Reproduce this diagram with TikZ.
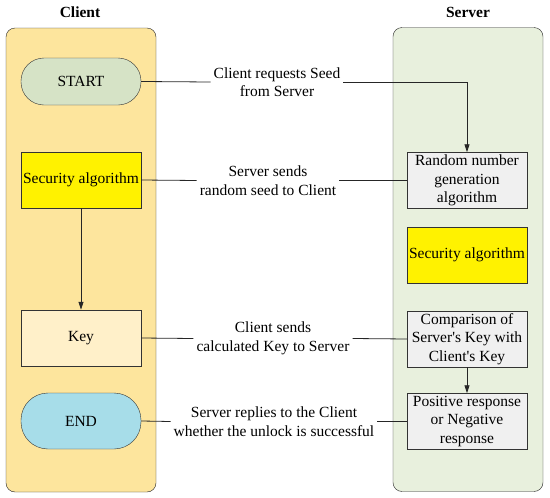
\documentclass[tikz,border=0pt]{standalone}
\usepackage{fontspec}
\setmainfont{Liberation Serif}
\newfontfamily\aposfont{Liberation Serif}[Ligatures=TeXOff]
\usetikzlibrary{arrows.meta}

\definecolor{clientbg}{HTML}{FDE59D}
\definecolor{serverbg}{HTML}{E8F0DD}
\definecolor{startfill}{HTML}{D6E3C6}
\definecolor{keyfill}{HTML}{FFF0C9}
\definecolor{endfill}{HTML}{A7DDE9}
\definecolor{grayfill}{HTML}{F0F0F0}
\newcommand{\apos}{{\aposfont'}}

\begin{document}
\begin{tikzpicture}[x=1pt, y=-1pt,
  txt/.style={font=\fontsize{15.5}{18.5}\selectfont},
  panel/.style={draw=black!85, rounded corners=9pt, minimum width=150pt, minimum height=464pt},
  box/.style={txt, draw=black!80, minimum width=120pt, minimum height=56pt, align=center, inner sep=1pt},
  term/.style={box, rounded corners=23pt},
  msg/.style={txt, fill=white, align=center, inner sep=3pt},
  head/.style={font=\fontsize{15.5}{17}\selectfont\bfseries},
  link/.style={draw=black!85, line width=0.8pt},
  >={Triangle[length=8pt,width=5pt]}]
\useasboundingbox (0,0) rectangle (550,498);
% lanes
\node[panel, fill=clientbg] (clientlane) at (81,260) {};
\node[panel, fill=serverbg] (serverlane) at (468,259.5) {};
\node[head] (clienthead) at (80,12) {Client};
\node[head] (serverhead) at (468,12) {Server};
% client side
\node[term, fill=startfill, minimum height=47pt] (start) at (81,81.5) {START};
\node[box, fill=yellow] (csec) at (81,180) {Security algorithm};
\node[box, fill=keyfill] (key) at (81,338) {Key};
\node[term, fill=endfill, rounded corners=27pt] (finish) at (81,421) {END};
% server side
\node[box, fill=grayfill] (rng) at (467,180.5) {Random number\\generation\\algorithm};
\node[box, fill=yellow] (ssec) at (467,255) {Security algorithm};
\node[box, fill=grayfill] (cmp) at (467,339) {Comparison of\\Server\apos s Key with\\Client\apos s Key};
\node[box, fill=grayfill] (resp) at (467,421.5) {Positive response\\or Negative\\response};
% messages
\node[msg] (req) at (277,82) {Client requests Seed\\from Server};
\node[msg] (seed) at (268,180.5) {Server sends\\random seed to Client};
\node[msg] (send) at (273,338.5) {Client sends\\calculated Key to Server};
\node[msg] (reply) at (274,421.5) {Server replies to the Client\\whether the unlock is successful};
% connectors
\draw[link] (start.east) -- (req.west);
\draw[link, ->] (req.east) -| (rng.north);
\draw[link] (csec.east) -- (seed.west);
\draw[link] (seed.east) -- (rng.west);
\draw[link, ->] (csec.south) -- (key.north);
\draw[link] (key.east) -- (send.west);
\draw[link] (send.east) -- (cmp.west);
\draw[link, ->] (cmp.south) -- (resp.north);
\draw[link] (finish.east) -- (reply.west);
\draw[link] (reply.east) -- (resp.west);
\end{tikzpicture}
\end{document}
